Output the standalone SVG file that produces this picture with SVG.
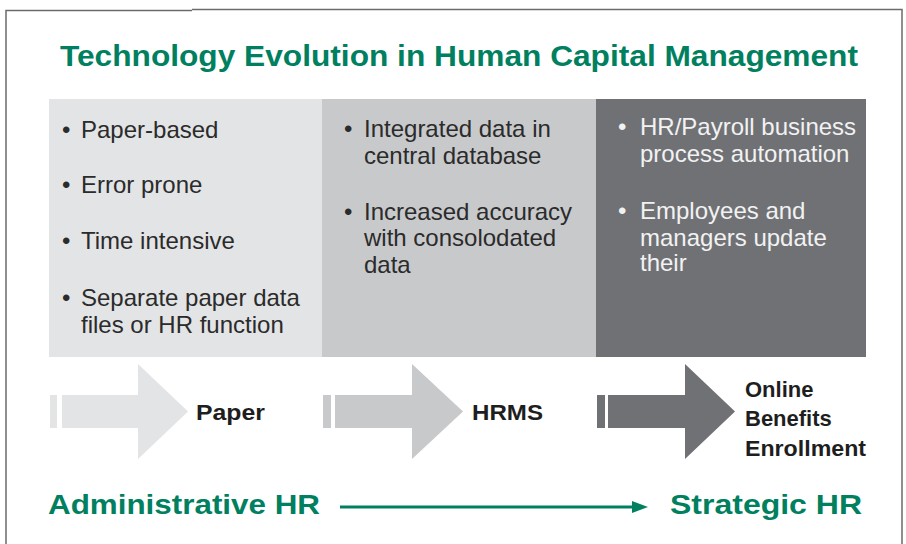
<svg xmlns="http://www.w3.org/2000/svg" width="906" height="544" viewBox="0 0 906 544">
<style>
.frame{fill:none;stroke:#6b6b6b;stroke-width:1.5}
.title{font-family:"Liberation Sans",Arial,sans-serif;font-weight:bold;fill:#00805f}
.b{font-family:"Liberation Sans",Arial,sans-serif;font-size:24px;fill:#2b2b2b}
.bw{font-family:"Liberation Sans",Arial,sans-serif;font-size:24px;fill:#f2f2f2}
.lbl{font-family:"Liberation Sans",Arial,sans-serif;font-size:22px;font-weight:bold;fill:#1e1e1e}
.p1{fill:#e3e4e5}.p2{fill:#c8c9cb}.p3{fill:#707175}
</style>
<rect width="906" height="544" fill="#ffffff"/>
<g id="frame">
<path class="frame" d="M6,544 V10.5 H192"/>
<path class="frame" d="M192,9.5 H902 V544"/>
</g>
<text id="title" class="title" x="60" y="66" font-size="29" textLength="798" lengthAdjust="spacingAndGlyphs">Technology Evolution in Human Capital Management</text>
<g id="panel-paper">
<rect class="p1" x="49" y="99" width="273" height="258"/>
<text class="b" x="62" y="138">•</text><text class="b" x="81" y="138">Paper-based</text>
<text class="b" x="62" y="193">•</text><text class="b" x="81" y="193">Error prone</text>
<text class="b" x="62" y="249">•</text><text class="b" x="81" y="249">Time intensive</text>
<text class="b" x="62" y="306">•</text><text class="b" x="81" y="306">Separate paper data</text>
<text class="b" x="81" y="333">files or HR function</text>
</g>
<g id="panel-hrms">
<rect class="p2" x="322" y="99" width="274" height="258"/>
<text class="b" x="344" y="137">•</text><text class="b" x="364" y="137">Integrated data in</text>
<text class="b" x="364" y="164">central database</text>
<text class="b" x="344" y="220">•</text><text class="b" x="364" y="220">Increased accuracy</text>
<text class="b" x="364" y="246">with consolodated</text>
<text class="b" x="364" y="273">data</text>
</g>
<g id="panel-online">
<rect class="p3" x="596" y="99" width="270" height="258"/>
<text class="bw" x="618" y="135">•</text><text class="bw" x="640" y="135">HR/Payroll business</text>
<text class="bw" x="640" y="162">process automation</text>
<text class="bw" x="618" y="219">•</text><text class="bw" x="640" y="219">Employees and</text>
<text class="bw" x="640" y="246">managers update</text>
<text class="bw" x="640" y="271">their</text>
</g>
<g id="stage-paper">
<rect class="p1" x="50" y="395" width="7" height="33"/>
<polygon class="p1" points="62,395 138,395 138,364 188,411.5 138,459 138,428 62,428"/>
<text class="lbl" x="196" y="420" textLength="69" lengthAdjust="spacingAndGlyphs">Paper</text>
</g>
<g id="stage-hrms">
<rect class="p2" x="323" y="395" width="8" height="33"/>
<polygon class="p2" points="335,395 412,395 412,364 463,411.5 412,459 412,428 335,428"/>
<text class="lbl" x="472" y="420" textLength="71" lengthAdjust="spacingAndGlyphs">HRMS</text>
</g>
<g id="stage-online">
<rect class="p3" x="597" y="395" width="8" height="33"/>
<polygon class="p3" points="608,395 685,395 685,364 735,411.5 685,459 685,428 608,428"/>
<text class="lbl" x="745" y="397">Online</text>
<text class="lbl" x="745" y="426">Benefits</text>
<text class="lbl" x="745" y="456" textLength="121" lengthAdjust="spacingAndGlyphs">Enrollment</text>
</g>
<g id="connectors">
<line x1="340" y1="507" x2="634" y2="507" stroke="#00805f" stroke-width="3"/>
<polygon points="632,501 648,507 632,513" fill="#00805f"/>
</g>
<text id="admin-hr" class="title" x="48" y="514" font-size="28" textLength="272" lengthAdjust="spacingAndGlyphs">Administrative HR</text>
<text id="strategic-hr" class="title" x="670" y="514" font-size="28" textLength="192" lengthAdjust="spacingAndGlyphs">Strategic HR</text>
</svg>
